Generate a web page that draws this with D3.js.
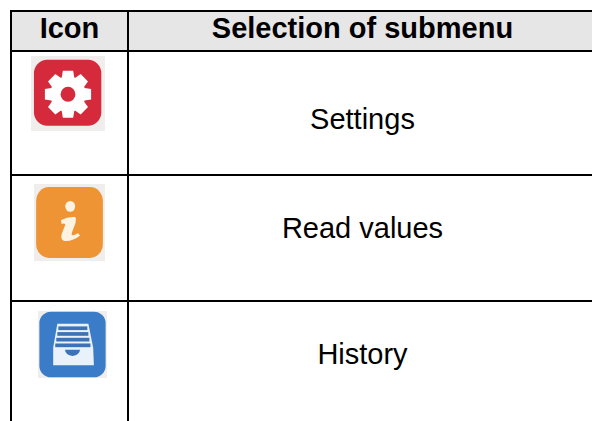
<!DOCTYPE html>
<html>
<head>
<meta charset="utf-8">
<script src="https://cdn.jsdelivr.net/npm/d3@7"></script>
<style>
  html, body { margin: 0; background: #fff; }
  svg { display: block; font-family: "Liberation Sans", Arial, sans-serif; }
</style>
</head>
<body>
<script>
// table content
var headers = ["Icon", "Selection of submenu"]
var submenus = ["Settings", "Read values", "History"]
var icons = ["gear", "info", "tray"]

var width = 592, height = 421

var svg = d3.select("body").append("svg").attr("width", width).attr("height", height)

var defs = svg.append("defs")
defs.append("filter").attr("id", "soft")
  .attr("x", "-10%").attr("y", "-10%").attr("width", "120%").attr("height", "120%")
  .append("feGaussianBlur").attr("stdDeviation", 0.6)

// columns and rows
var x = d3.scaleOrdinal().domain(headers).range([69.5, 362.5])
var rowY = d3.scaleOrdinal().domain(submenus).range([51, 175, 301])
var labelY = d3.scaleOrdinal().domain(submenus).range([129, 238, 364])
var iconBox = d3.scaleOrdinal().domain(icons).range([
  {x: 31, y: 56, w: 74, h: 75},
  {x: 34, y: 184, w: 71, h: 77},
  {x: 38, y: 311, w: 69, h: 67}
])

// header background
svg.append("rect").attr("x", 11).attr("y", 11).attr("width", width - 11).attr("height", 40).attr("fill", "#e6e6e6")

// grid
var lineColor = "#000"
svg.selectAll("line.row").data(rowY.range().concat([11]))
  .join("line").attr("class", "row")
  .attr("x1", 10).attr("x2", width)
  .attr("y1", function(d) { return d }).attr("y2", function(d) { return d })
  .attr("stroke", lineColor).attr("stroke-width", 2)

svg.selectAll("line.col").data([11, 128])
  .join("line").attr("class", "col")
  .attr("x1", function(d) { return d }).attr("x2", function(d) { return d })
  .attr("y1", 10).attr("y2", height)
  .attr("stroke", lineColor).attr("stroke-width", 2)

// header text
svg.selectAll("text.head").data(headers)
  .join("text").attr("class", "head")
  .attr("x", function(d) { return x(d) })
  .attr("y", 38)
  .attr("text-anchor", "middle")
  .attr("font-size", 29)
  .attr("font-weight", "bold")
  .attr("fill", "#000")
  .text(function(d) { return d })

// row text
svg.selectAll("text.label").data(submenus)
  .join("text").attr("class", "label")
  .attr("x", x(headers[1]))
  .attr("y", function(d) { return labelY(d) })
  .attr("text-anchor", "middle")
  .attr("font-size", 29)
  .attr("fill", "#000")
  .text(function(d) { return d })

// icons, drawn in a 100x100 box
var iconG = svg.selectAll("g.icon").data(icons)
  .join("g").attr("class", "icon")
  .attr("transform", function(d) {
    var b = iconBox(d)
    return "translate(" + b.x + "," + b.y + ") scale(" + b.w / 100 + "," + b.h / 100 + ")"
  })
  .attr("filter", "url(#soft)")

iconG.append("rect").attr("width", 100).attr("height", 100).attr("fill", "#f0eeec")

// gear
var gear = iconG.filter(function(d) { return d == "gear" })
gear.append("rect").attr("x", 4).attr("y", 5).attr("width", 91).attr("height", 88).attr("rx", 18)
  .attr("fill", "#d42a3a")

var gearPts = []
d3.range(8).forEach(function(i) {
  var a = i * Math.PI / 4
  gearPts.push([a - 0.36, 24], [a - 0.22, 32], [a + 0.22, 32], [a + 0.36, 24])
})
gear.append("path")
  .attr("transform", "translate(50,51)")
  .attr("d", d3.lineRadial().curve(d3.curveLinearClosed)(gearPts))
  .attr("fill", "#fff")
gear.append("circle").attr("cx", 50).attr("cy", 51).attr("r", 10).attr("fill", "#d42a3a")

// info
var info = iconG.filter(function(d) { return d == "info" })
info.append("rect").attr("x", 3).attr("y", 4).attr("width", 94).attr("height", 92).attr("rx", 18)
  .attr("fill", "#ef9434")
info.append("circle").attr("cx", 51).attr("cy", 29).attr("r", 7).attr("fill", "#fdf3e2")
info.append("path")
  .attr("d", "M38,47 Q48,42 58,43 Q60,45 58,52 L53,64 Q52,69 62,64 L65,67 Q54,75 43,74 Q37,73 39,65 L44,53 Q43,50 39,52 Z")
  .attr("fill", "#fdf3e2")

// tray
var tray = iconG.filter(function(d) { return d == "tray" })
tray.append("rect").attr("x", 2).attr("y", 1).attr("width", 96).attr("height", 98).attr("rx", 17)
  .attr("fill", "#3a7cc8")
tray.append("path")
  .attr("d", "M28,19 L73,19 L80,55 L81,81 L22,81 L22,55 Z")
  .attr("fill", "#e9f1fa")
tray.selectAll("rect.slot").data(d3.range(4))
  .join("rect").attr("class", "slot")
  .attr("x", function(d) { return 29.5 - d * 1.5 }).attr("y", function(d) { return 23 + d * 8.5 })
  .attr("width", function(d) { return 42 + d * 3 }).attr("height", 5.5)
  .attr("fill", "#3a72b8")
tray.append("path")
  .attr("d", "M39,58 L61,58 Q60,66 50,67 Q40,66 39,58 Z")
  .attr("fill", "#3a72b8")
</script>
</body>
</html>
